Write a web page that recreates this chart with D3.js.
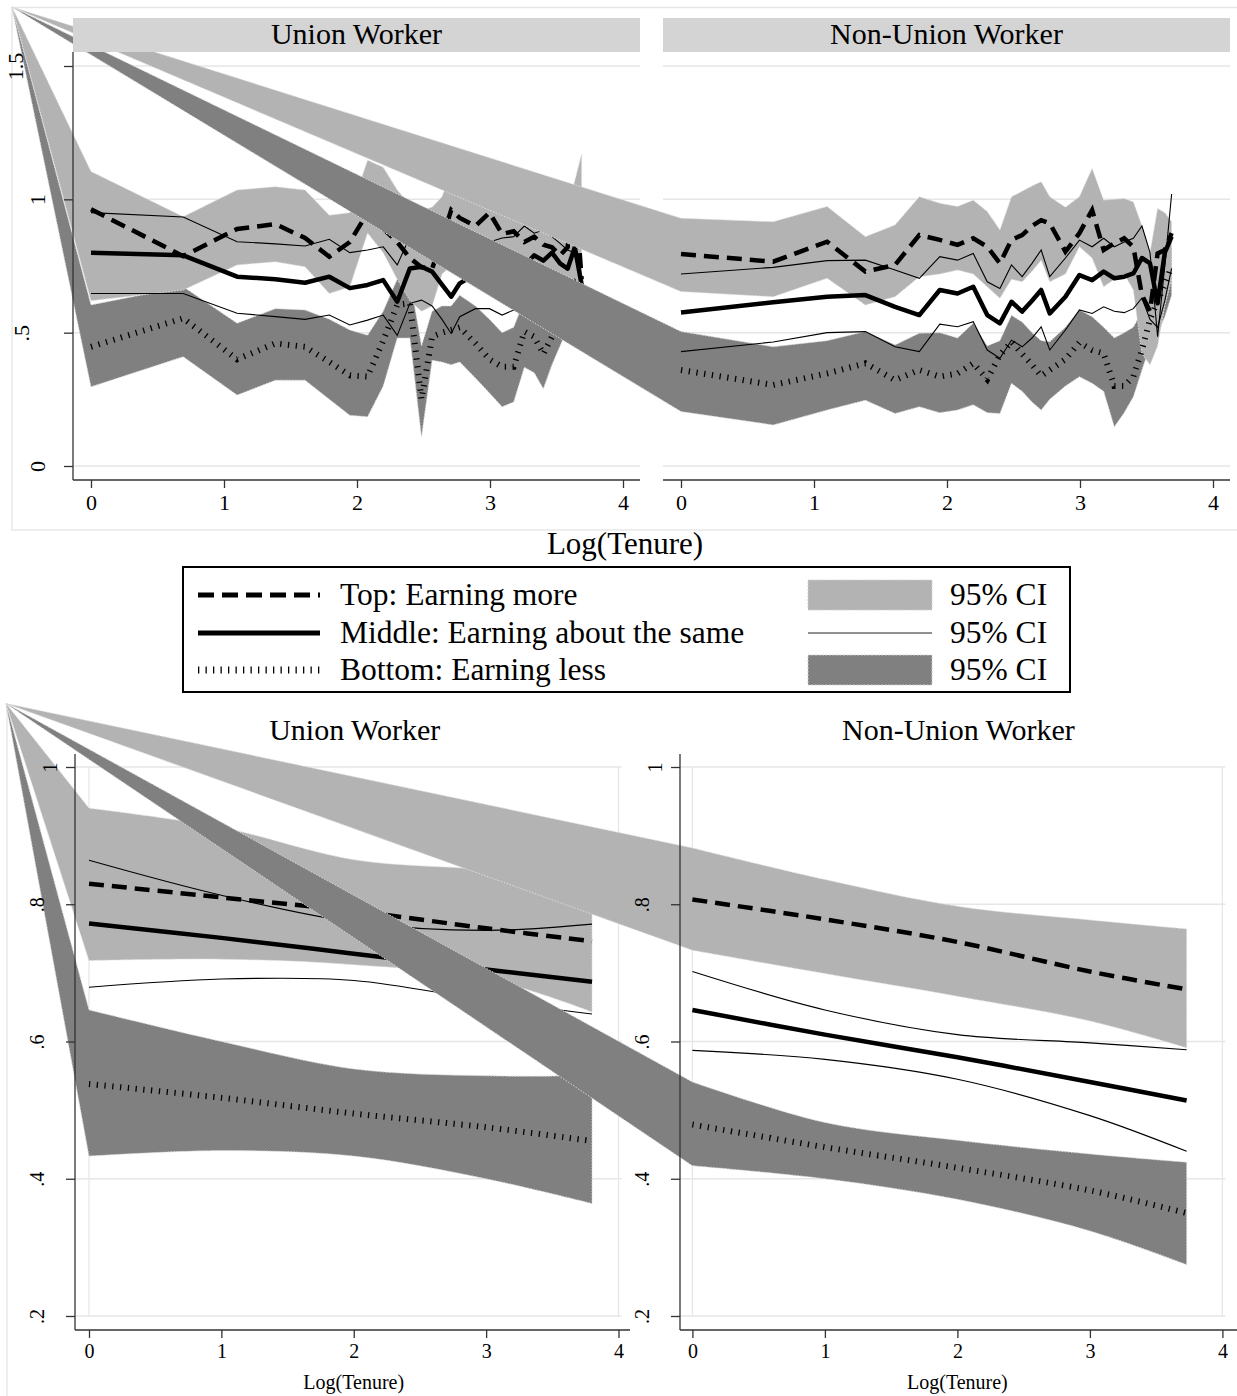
<!DOCTYPE html>
<html><head><meta charset="utf-8">
<script src="https://cdn.jsdelivr.net/npm/d3@7"></script>
<style>body{margin:0;background:#fff}svg{display:block}</style>
</head><body>
<svg id="c" width="1237" height="1396"></svg>
<script>
// ---------------- DATA ----------------
const tenureYears = [1,2,3,4,5,6,7,8,9,10,11,12,13,14,15,16,18,20,22,24,26,28,30,32,34,36,38,40];
const panelTitles = ["Union Worker","Non-Union Worker"];
const topYTicks = [0,0.5,1,1.5];
const bottomYTicks = [0.2,0.4,0.6,0.8,1];
const xTicks = [0,1,2,3,4];
const legendLabels = ["Top: Earning more","Middle: Earning about the same","Bottom: Earning less"];
const ciLabel = "95% CI";
const xTitle = "Log(Tenure)";

// Top graph, Union worker (by tenure year)
const unionTop   = [0.963,0.787,0.889,0.907,0.855,0.785,0.84,0.95,0.89,0.84,0.78,0.745,0.74,0.85,0.96,0.93,0.90,0.95,0.87,0.88,0.84,0.86,0.83,0.82,0.79,0.82,1.05,0.70];
const unionTopHi = [1.104,0.935,1.035,1.047,1.035,0.94,0.95,1.147,1.12,1.035,0.98,0.96,0.97,1.01,1.10,1.06,1.08,1.10,1.03,1.05,0.98,1.02,0.99,0.98,1.00,0.97,1.07,1.17];
const unionTopLo = [0.62,0.66,0.754,0.766,0.747,0.647,0.672,0.874,0.80,0.70,0.62,0.58,0.60,0.72,0.75,0.74,0.76,0.72,0.70,0.72,0.68,0.70,0.66,0.64,0.62,0.60,0.62,0.55];
const unionMid   = [0.80,0.79,0.71,0.70,0.687,0.71,0.667,0.679,0.697,0.616,0.741,0.747,0.729,0.68,0.635,0.685,0.72,0.76,0.74,0.78,0.75,0.79,0.77,0.80,0.76,0.74,0.82,0.68];
const unionMidHi = [0.95,0.934,0.841,0.833,0.825,0.85,0.80,0.81,0.822,0.754,0.86,0.87,0.85,0.80,0.76,0.80,0.83,0.84,0.855,0.86,0.90,0.873,0.885,0.86,0.835,0.81,0.80,0.70];
const unionMidLo = [0.647,0.647,0.573,0.56,0.55,0.566,0.529,0.547,0.566,0.49,0.61,0.622,0.60,0.55,0.497,0.56,0.59,0.59,0.566,0.585,0.62,0.63,0.66,0.68,0.66,0.62,0.70,0.66];
const unionBot   = [0.447,0.554,0.40,0.46,0.447,0.39,0.34,0.335,0.47,0.604,0.61,0.25,0.485,0.50,0.51,0.52,0.46,0.40,0.372,0.372,0.504,0.485,0.42,0.485,0.55,0.60,0.62,0.70];
const unionBotHi = [0.604,0.672,0.535,0.59,0.585,0.55,0.51,0.49,0.58,0.70,0.70,0.45,0.58,0.60,0.60,0.64,0.60,0.55,0.50,0.52,0.62,0.60,0.55,0.60,0.65,0.68,0.72,0.78];
const unionBotLo = [0.297,0.41,0.266,0.322,0.322,0.25,0.19,0.185,0.30,0.48,0.48,0.11,0.397,0.39,0.38,0.39,0.33,0.274,0.222,0.24,0.37,0.35,0.29,0.38,0.45,0.52,0.55,0.62];

// Top graph, Non-union worker
const nonTop   = [0.795,0.766,0.841,0.729,0.754,0.866,0.848,0.829,0.854,0.822,0.76,0.848,0.866,0.90,0.922,0.91,0.804,0.873,0.96,0.81,0.835,0.854,0.822,0.64,0.58,0.797,0.81,0.873];
const nonTopHi = [0.929,0.916,0.973,0.86,0.904,1.01,0.985,0.973,0.997,0.954,0.885,1.01,1.03,1.05,1.066,1.01,0.97,1.01,1.116,0.997,1.00,1.003,0.99,0.90,0.80,0.966,0.95,0.916];
const nonTopLo = [0.654,0.635,0.704,0.604,0.635,0.71,0.72,0.735,0.72,0.672,0.629,0.70,0.691,0.73,0.772,0.691,0.72,0.822,0.78,0.672,0.70,0.72,0.66,0.42,0.38,0.45,0.60,0.70];
const nonMid   = [0.576,0.614,0.635,0.641,0.597,0.566,0.66,0.647,0.672,0.566,0.535,0.616,0.579,0.62,0.66,0.572,0.635,0.716,0.697,0.729,0.704,0.71,0.722,0.78,0.76,0.61,0.80,0.86];
const nonMidHi = [0.72,0.745,0.77,0.772,0.735,0.704,0.785,0.772,0.797,0.691,0.666,0.754,0.71,0.76,0.81,0.71,0.78,0.847,0.822,0.854,0.822,0.84,0.854,0.90,0.80,0.485,0.75,1.02];
const nonMidLo = [0.429,0.465,0.50,0.504,0.447,0.429,0.532,0.522,0.541,0.435,0.404,0.472,0.447,0.48,0.522,0.435,0.51,0.585,0.572,0.597,0.58,0.575,0.59,0.63,0.55,0.52,0.62,0.741];
const nonBot   = [0.36,0.304,0.347,0.385,0.322,0.36,0.335,0.347,0.385,0.325,0.416,0.466,0.42,0.38,0.338,0.36,0.40,0.463,0.435,0.422,0.30,0.30,0.335,0.435,0.55,0.62,0.68,0.75];
const nonBotHi = [0.504,0.447,0.47,0.504,0.454,0.498,0.50,0.48,0.535,0.45,0.47,0.565,0.54,0.50,0.47,0.466,0.52,0.585,0.56,0.52,0.48,0.50,0.52,0.58,0.70,0.78,0.80,0.82];
const nonBotLo = [0.204,0.154,0.21,0.247,0.197,0.222,0.20,0.21,0.23,0.20,0.197,0.31,0.28,0.24,0.21,0.25,0.30,0.335,0.31,0.28,0.147,0.20,0.26,0.36,0.45,0.50,0.56,0.64];

// Bottom graph (fitted), log tenure points
const fitLogTenureU = [0,1,2,3,3.8];
const fitLogTenureN = [0,1,2,3,3.73];
const fitUTop   = [0.83,0.81,0.79,0.765,0.746];
const fitUTopHi = [0.94,0.912,0.865,0.85,0.83];
const fitUTopLo = [0.718,0.72,0.712,0.692,0.643];
const fitUMid   = [0.772,0.751,0.728,0.705,0.687];
const fitUMidHi = [0.864,0.813,0.774,0.762,0.771];
const fitUMidLo = [0.679,0.691,0.689,0.66,0.64];
const fitUBot   = [0.538,0.518,0.495,0.475,0.455];
const fitUBotHi = [0.646,0.60,0.56,0.55,0.55];
const fitUBotLo = [0.433,0.441,0.433,0.40,0.364];
const fitNTop   = [0.807,0.778,0.745,0.702,0.676];
const fitNTopHi = [0.882,0.836,0.797,0.777,0.764];
const fitNTopLo = [0.733,0.699,0.666,0.63,0.591];
const fitNMid   = [0.646,0.61,0.577,0.541,0.514];
const fitNMidHi = [0.702,0.646,0.61,0.598,0.588];
const fitNMidLo = [0.587,0.574,0.545,0.492,0.44];
const fitNBot   = [0.479,0.446,0.416,0.383,0.35];
const fitNBotHi = [0.541,0.482,0.456,0.436,0.424];
const fitNBotLo = [0.419,0.40,0.37,0.324,0.275];

// ---------------- STYLE ----------------
const FONT = "'Liberation Serif','Times New Roman',serif";
const LIGHT = "#b3b3b3", DARK = "#808080", STRIP = "#d4d4d4", GRID = "#e6e6e6", FRAME = "#e8e8e8", AXIS = "#333";
const svg = d3.select("#c");

const fmt = d => d === 0 ? "0" : String(d).replace(/^0\./, ".");

function drawBands(g, xs, sx, sy, s, origin, curve) {
  const line = d3.line().x(d => sx(d[0])).y(d => sy(d[1])).curve(curve);
  const pts = arr => xs.map((x, i) => [x, arr[i]]);
  const wedge = (hi, lo) => `M${origin[0]},${origin[1]}L` + line(pts(hi)).slice(1) + "L" + line(pts(lo).reverse()).slice(1) + "Z";
  g.append("path").attr("d", wedge(s.botHi, s.botLo)).attr("fill", DARK)
    .attr("stroke", "#d6d6d6").attr("stroke-width", 1).attr("stroke-dasharray", "1.5,1.5");
  g.append("path").attr("d", wedge(s.topHi, s.topLo)).attr("fill", LIGHT)
    .attr("stroke", "#dedede").attr("stroke-width", 1).attr("stroke-dasharray", "1.5,1.5");
  [s.midHi, s.midLo].forEach(a => g.append("path").attr("d", line(pts(a)))
    .attr("fill", "none").attr("stroke", "#000").attr("stroke-width", 1.1));
  g.append("path").attr("d", line(pts(s.bot))).attr("fill", "none").attr("stroke", "#000")
    .attr("stroke-width", 6).attr("stroke-dasharray", "1.3,6.5");
  g.append("path").attr("d", line(pts(s.mid))).attr("fill", "none").attr("stroke", "#000")
    .attr("stroke-width", 4.5).attr("stroke-linejoin", "round");
  g.append("path").attr("d", line(pts(s.top))).attr("fill", "none").attr("stroke", "#000")
    .attr("stroke-width", 4.5).attr("stroke-dasharray", "15,8");
}

function hGrid(g, sy, ticks, x0, x1) {
  g.selectAll(null).data(ticks).enter().append("line")
    .attr("x1", x0).attr("x2", x1).attr("y1", d => sy(d)).attr("y2", d => sy(d))
    .attr("stroke", GRID).attr("stroke-width", 1.5);
}

function xAxis(g, sx, y, x0, x1, fs) {
  g.append("line").attr("x1", x0).attr("x2", x1).attr("y1", y).attr("y2", y).attr("stroke", AXIS).attr("stroke-width", 1.3);
  const a = g.append("g").attr("transform", `translate(0,${y})`)
    .call(d3.axisBottom(sx).tickValues(xTicks).tickSize(8).tickSizeOuter(0).tickPadding(6).tickFormat(d3.format("d")));
  a.select(".domain").remove();
  a.selectAll("line").attr("stroke", AXIS).attr("stroke-width", 1.3);
  a.selectAll("text").attr("font-family", FONT).attr("font-size", fs).attr("fill", "#000");
}

function yAxis(g, sy, ticks, x, y0, y1, fs, offs) {
  g.append("line").attr("x1", x).attr("x2", x).attr("y1", y0).attr("y2", y1).attr("stroke", AXIS).attr("stroke-width", 1.3);
  const a = g.append("g").attr("transform", `translate(${x},0)`)
    .call(d3.axisLeft(sy).tickValues(ticks).tickSize(9).tickSizeOuter(0).tickFormat(fmt));
  a.select(".domain").remove();
  a.selectAll("line").attr("stroke", AXIS).attr("stroke-width", 1.3);
  a.selectAll("text").each(function(d) {
    const t = d3.select(this), lab = fmt(d);
    const off = offs[Math.min(lab.length, offs.length) - 1];
    t.attr("x", null).attr("dy", null)
      .attr("transform", `translate(${off},0) rotate(-90)`)
      .attr("text-anchor", "middle").attr("dominant-baseline", "central")
      .attr("font-family", FONT).attr("font-size", fs).attr("fill", "#000");
  });
}

// ---------------- TOP GRAPH ----------------
const logT = tenureYears.map(Math.log);
const yTop = d3.scaleLinear().domain([0, 1.5]).range([466, 66]);
const xTopL = d3.scaleLinear().domain([0, 4]).range([91, 623]);
const xTopR = d3.scaleLinear().domain([0, 4]).range([681, 1213]);
const originTop = [12, 7];

const topG = svg.append("g");
topG.append("rect").attr("x", 12).attr("y", 7.5).attr("width", 1240).attr("height", 522.5)
  .attr("fill", "none").attr("stroke", FRAME).attr("stroke-width", 1.5);
hGrid(topG, yTop, topYTicks, 73, 640);
hGrid(topG, yTop, topYTicks, 663, 1230);

drawBands(topG.append("g"), logT, xTopL, yTop,
  {top: unionTop, topHi: unionTopHi, topLo: unionTopLo, mid: unionMid, midHi: unionMidHi, midLo: unionMidLo, bot: unionBot, botHi: unionBotHi, botLo: unionBotLo},
  originTop, d3.curveLinear);
drawBands(topG.append("g"), logT, xTopR, yTop,
  {top: nonTop, topHi: nonTopHi, topLo: nonTopLo, mid: nonMid, midHi: nonMidHi, midLo: nonMidLo, bot: nonBot, botHi: nonBotHi, botLo: nonBotLo},
  originTop, d3.curveLinear);

xAxis(topG, xTopL, 480, 73, 640, 22);
xAxis(topG, xTopR, 480, 663, 1230, 22);
yAxis(topG, yTop, topYTicks, 73, 52, 480, 22, [-36, -52, -58]);

// strips
[[73, 640], [663, 1230]].forEach((r, i) => {
  topG.append("rect").attr("x", r[0]).attr("y", 18).attr("width", r[1] - r[0]).attr("height", 34).attr("fill", STRIP);
  topG.append("text").attr("x", (r[0] + r[1]) / 2).attr("y", 44).attr("text-anchor", "middle")
    .attr("font-family", FONT).attr("font-size", 30).text(panelTitles[i]);
});
topG.append("text").attr("x", 625).attr("y", 554).attr("text-anchor", "middle")
  .attr("font-family", FONT).attr("font-size", 31).text(xTitle);

// ---------------- LEGEND ----------------
const lg = svg.append("g");
lg.append("rect").attr("x", 183).attr("y", 567).attr("width", 887).attr("height", 125)
  .attr("fill", "#fff").attr("stroke", "#000").attr("stroke-width", 2);
const rowY = [595, 633, 670];
const symStyles = [
  {w: 5, dash: "16,8"}, {w: 5, dash: null}, {w: 7, dash: "1.3,6.2"}
];
legendLabels.forEach((lab, i) => {
  const l = lg.append("line").attr("x1", 198).attr("x2", 320).attr("y1", rowY[i]).attr("y2", rowY[i])
    .attr("stroke", "#000").attr("stroke-width", symStyles[i].w);
  if (symStyles[i].dash) l.attr("stroke-dasharray", symStyles[i].dash);
  lg.append("text").attr("x", 340).attr("y", rowY[i] + 10).attr("font-family", FONT).attr("font-size", 31.5).text(lab);
  if (i === 1) {
    lg.append("line").attr("x1", 808).attr("x2", 932).attr("y1", rowY[i]).attr("y2", rowY[i]).attr("stroke", "#222").attr("stroke-width", 1.2);
  } else {
    lg.append("rect").attr("x", 808).attr("y", rowY[i] - 15).attr("width", 124).attr("height", 30)
      .attr("fill", i === 0 ? LIGHT : DARK).attr("stroke", "#d0d0d0").attr("stroke-width", 1).attr("stroke-dasharray", "2,1.5");
  }
  lg.append("text").attr("x", 950).attr("y", rowY[i] + 10).attr("font-family", FONT).attr("font-size", 31.5).text(ciLabel);
});

// ---------------- BOTTOM GRAPH ----------------
const yBot = d3.scaleLinear().domain([0.2, 1]).range([1316, 767]);
const xBotL = d3.scaleLinear().domain([0, 4]).range([89, 618.5]);
const xBotR = d3.scaleLinear().domain([0, 4]).range([692.4, 1222.4]);
const originBot = [6, 703.5];
const botG = svg.append("g");
botG.append("line").attr("x1", 7).attr("x2", 7).attr("y1", 703.5).attr("y2", 1396).attr("stroke", FRAME).attr("stroke-width", 1.5);

function bottomPanel(sx, axisX, xEnd, xs, s, title) {
  const g = botG.append("g");
  hGrid(g, yBot, bottomYTicks, axisX, sx(4) + 3);
  [0, 4].forEach(t => g.append("line").attr("x1", sx(t)).attr("x2", sx(t)).attr("y1", yBot(1)).attr("y2", yBot(0.2))
    .attr("stroke", GRID).attr("stroke-width", 1.2));
  drawBands(g, xs, sx, yBot, s, originBot, d3.curveCatmullRom);
  xAxis(g, sx, 1330, axisX, xEnd, 20);
  yAxis(g, yBot, bottomYTicks, axisX, 754, 1330, 20, [-25, -38]);
  g.append("text").attr("x", (sx(0) + sx(4)) / 2 + 1).attr("y", 740).attr("text-anchor", "middle")
    .attr("font-family", FONT).attr("font-size", 30).text(title);
  g.append("text").attr("x", (sx(0) + sx(4)) / 2).attr("y", 1389).attr("text-anchor", "middle")
    .attr("font-family", FONT).attr("font-size", 20).text(xTitle);
}
bottomPanel(xBotL, 75, 630, fitLogTenureU,
  {top: fitUTop, topHi: fitUTopHi, topLo: fitUTopLo, mid: fitUMid, midHi: fitUMidHi, midLo: fitUMidLo, bot: fitUBot, botHi: fitUBotHi, botLo: fitUBotLo},
  panelTitles[0]);
bottomPanel(xBotR, 680, 1237, fitLogTenureN,
  {top: fitNTop, topHi: fitNTopHi, topLo: fitNTopLo, mid: fitNMid, midHi: fitNMidHi, midLo: fitNMidLo, bot: fitNBot, botHi: fitNBotHi, botLo: fitNBotLo},
  panelTitles[1]);
</script>
</body></html>
